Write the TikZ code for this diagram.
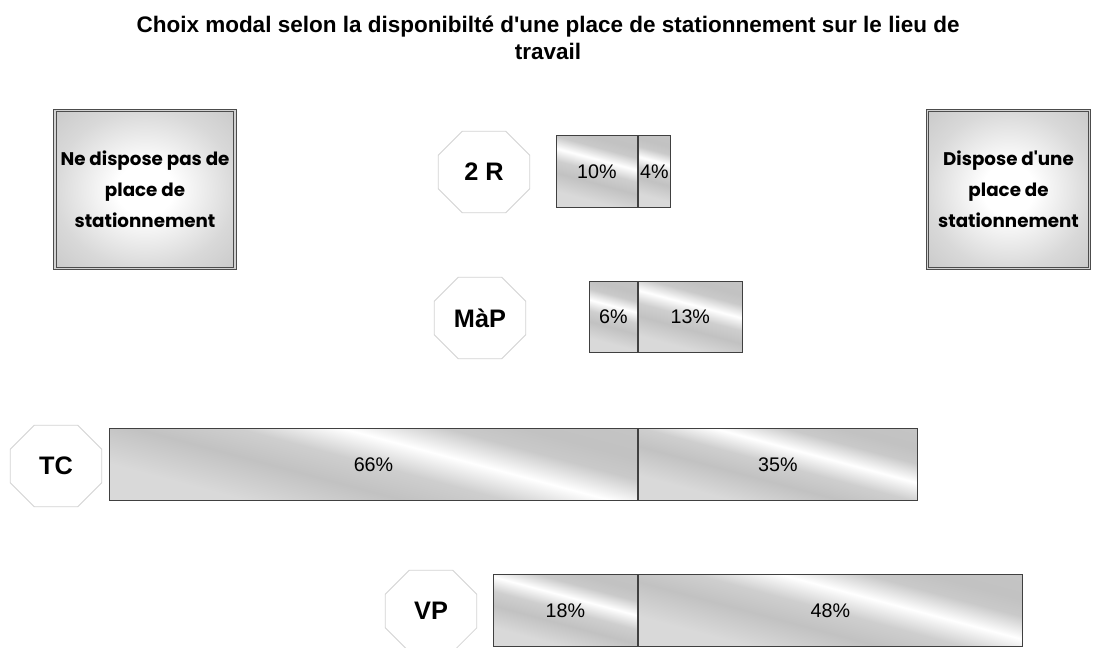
\documentclass[tikz,border=0pt]{standalone}
\usepackage{fontspec}
\setmainfont{Liberation Sans}
\newfontfamily\boxfont{Poppins}
\usetikzlibrary{calc}

\pgfdeclarehorizontalshading{barshade}{100bp}{color(0bp)=(gray!30); color(30bp)=(gray!30);
    color(42bp)=(gray!48); color(50bp)=(gray!38); color(58bp)=(white); color(66bp)=(gray!42);
    color(72bp)=(gray!48); color(100bp)=(gray!42)}
\pgfdeclareradialshading{parkshade}{\pgfpoint{0bp}{0bp}}{color(0bp)=(white); color(8bp)=(white);
    color(25bp)=(gray!30); color(34bp)=(gray!40); color(50bp)=(gray!45)}

\tikzset{
    mode/.style={rectangle, minimum width=2.275cm, minimum height=2.025cm,
        inner sep=0pt, font=\fontsize{18}{20}\selectfont\bfseries},
    modeline/.style={draw=gray!35, line width=0.6pt},
    cell/.style={rectangle, anchor=north west, draw=black!75, line width=0.6pt,
        inner sep=0pt, minimum height=1.8cm, shading=barshade, shading angle=75,
        font=\fontsize{14}{16}\selectfont},
    park/.style={rectangle, draw=black!70, double=gray!35, double distance=0.9pt,
        line width=0.7pt, shading=parkshade,
        minimum width=4.5cm, minimum height=3.95cm, align=center,
        font=\boxfont\fontsize{13}{22}\selectfont\bfseries},
}

\begin{document}
\begin{tikzpicture}[x=0.025cm,y=-0.025cm]
    \useasboundingbox (0,0) rectangle (1096,648);
    % titre
    \node[align=center, inner sep=0pt, font=\fontsize{16}{19.1}\selectfont\bfseries] (titre) at (548,38)
        {Choix modal selon la disponibilté d\textquotesingle une place de stationnement sur le lieu de\\travail};
    % places de stationnement
    \node[park] (sans) at (145,189.5) {Ne dispose pas de\\place de\\stationnement};
    \node[park, minimum width=4.05cm] (avec) at (1008.5,189.5) {Dispose d\textquotesingle une\\place de\\stationnement};
    % modes
    \node[mode] (r2) at (484,172) {2 R};
    \node[mode] (map) at (480,318) {MàP};
    \node[mode] (tc) at (56,466) {TC};
    \node[mode] (vp) at (431,611) {VP};
    \foreach \m in {r2,map,tc,vp}
        \draw[modeline] ($(\m.north west)+(24,0)$) -- ($(\m.north east)+(-24,0)$)
            -- ($(\m.north east)+(0,24)$) -- ($(\m.south east)+(0,-24)$)
            -- ($(\m.south east)+(-24,0)$) -- ($(\m.south west)+(24,0)$)
            -- ($(\m.south west)+(0,-24)$) -- ($(\m.north west)+(0,24)$) -- cycle;
    % barres : sans place | avec place
    \node[cell, minimum width=2.025cm] (r2a) at (556,135) {10\%};
    \node[cell, minimum width=0.8cm] (r2b) at (r2a.north east) {4\%};
    \node[cell, minimum width=1.2cm, minimum height=1.775cm] (mapa) at (589,281) {6\%};
    \node[cell, minimum width=2.6cm, minimum height=1.775cm] (mapb) at (mapa.north east) {13\%};
    \node[cell, minimum width=13.2cm] (tca) at (109,428) {66\%};
    \node[cell, minimum width=6.975cm] (tcb) at (tca.north east) {35\%};
    \node[cell, minimum width=3.6cm] (vpa) at (493,574) {18\%};
    \node[cell, minimum width=9.6cm] (vpb) at (vpa.north east) {48\%};
\end{tikzpicture}
\end{document}
